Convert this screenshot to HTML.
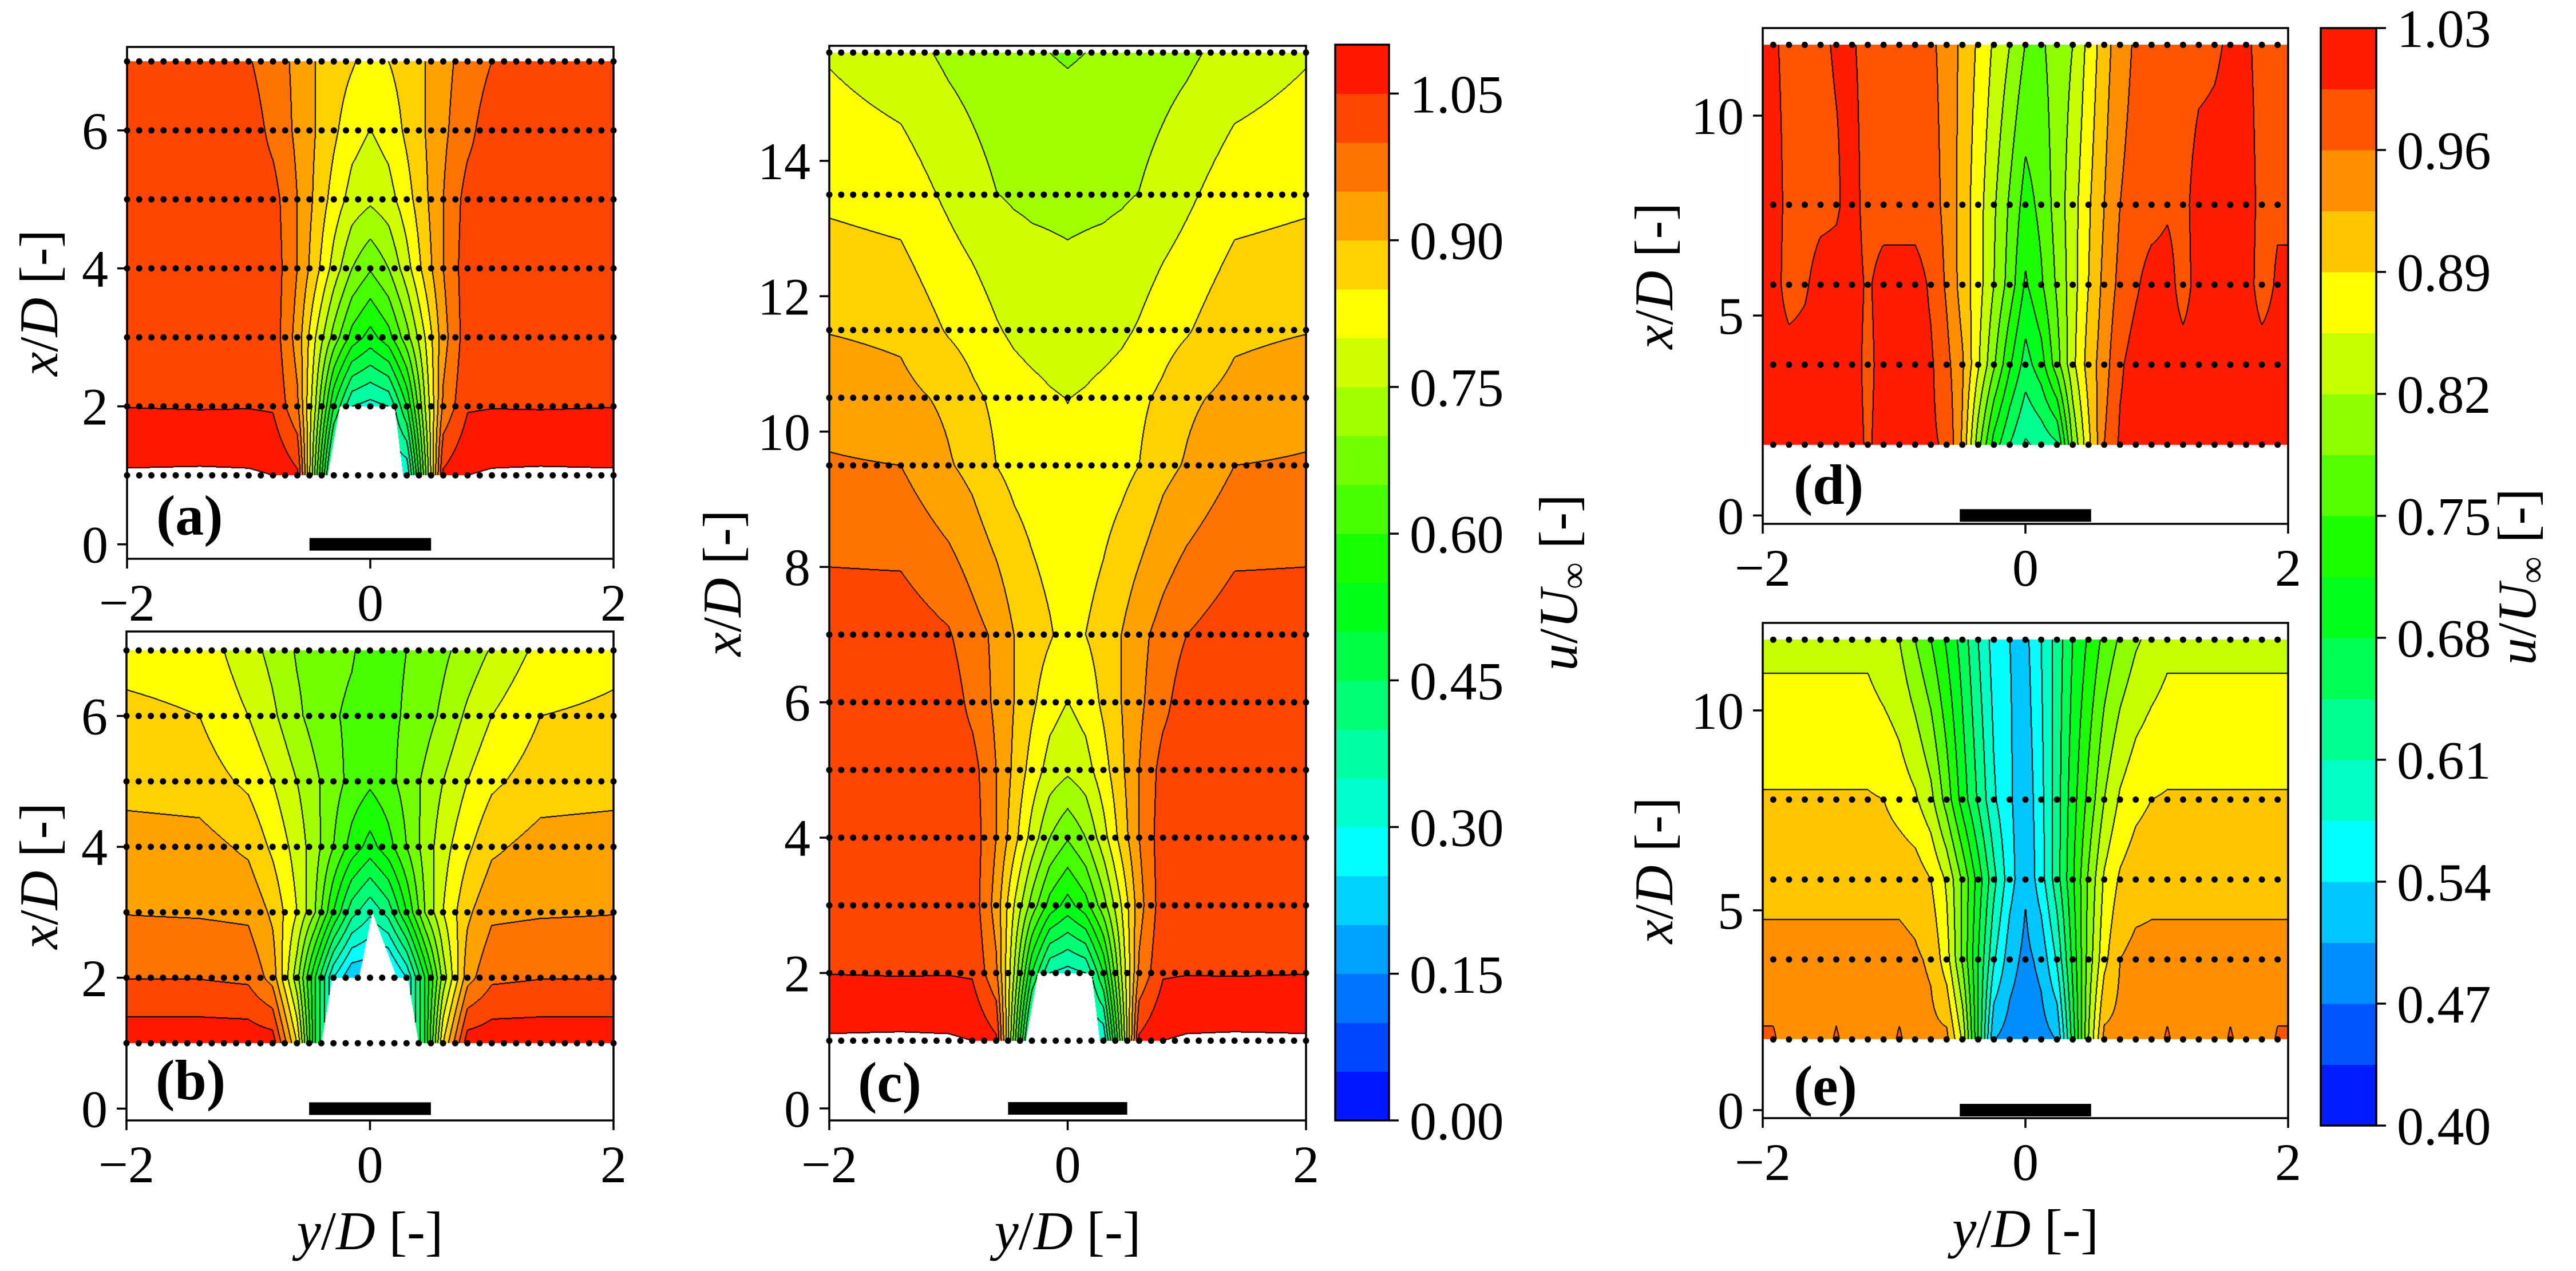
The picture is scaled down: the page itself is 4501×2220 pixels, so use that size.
<!DOCTYPE html>
<html><head><meta charset="utf-8"><title>Wake velocity contours</title>
<style>
html,body{margin:0;padding:0;background:#fff;}
body{width:4501px;height:2220px;position:relative;overflow:hidden;}
canvas{position:absolute;}
#overlay{position:absolute;left:0;top:0;}
text{font-family:"Liberation Serif","DejaVu Serif",serif;fill:#000;}
</style></head>
<body>
<svg id="overlay" width="4501" height="2220"></svg>
<script>
// ---------- DATA ----------
const abcY = [-2,-1.4,-1,-0.8,-0.6,-0.45,-0.3,-0.15,0,0.15,0.3,0.45,0.6,0.8,1,1.4,2];
const aRows = [1,2,3,4,5,6,7];
const aVals = [
 [1.106,1.108,1.106,1.10,1.06,0.68,0.30,0.30,0.30,0.30,0.30,0.68,1.06,1.10,1.106,1.108,1.106],
 [1.049,1.047,1.048,1.045,0.96,0.75,0.50,0.35,0.33,0.35,0.50,0.75,0.96,1.045,1.048,1.047,1.049],
 [1.03,1.03,1.03,1.03,0.93,0.80,0.68,0.58,0.53,0.58,0.68,0.80,0.93,1.03,1.03,1.03,1.03],
 [1.03,1.03,1.03,1.03,0.95,0.87,0.78,0.70,0.655,0.70,0.78,0.87,0.95,1.03,1.03,1.03,1.03],
 [1.03,1.03,1.03,1.02,0.95,0.89,0.83,0.78,0.76,0.78,0.83,0.89,0.95,1.02,1.03,1.03,1.03],
 [1.03,1.03,1.03,0.985,0.94,0.90,0.86,0.82,0.799,0.82,0.86,0.90,0.94,0.985,1.03,1.03,1.03],
 [1.03,1.03,1.005,0.97,0.94,0.90,0.875,0.855,0.83,0.85,0.87,0.90,0.935,0.97,1.0,1.03,1.03]
];
const bRows = [1,2,3,4,5,6,7];
const bVals = [
 [1.085,1.085,1.085,1.08,0.85,0.50,0.30,0.2,0.2,0.2,0.30,0.50,0.85,1.08,1.085,1.085,1.085],
 [0.998,0.998,0.99,0.93,0.72,0.50,0.30,0.2,0.2,0.2,0.30,0.50,0.72,0.93,0.99,0.998,0.998],
 [0.948,0.945,0.94,0.89,0.80,0.70,0.55,0.42,0.36,0.42,0.55,0.70,0.80,0.89,0.94,0.945,0.948],
 [0.925,0.92,0.89,0.84,0.78,0.72,0.65,0.58,0.53,0.58,0.65,0.72,0.78,0.84,0.89,0.92,0.925],
 [0.88,0.875,0.84,0.80,0.75,0.71,0.67,0.635,0.61,0.635,0.67,0.71,0.75,0.80,0.84,0.875,0.88],
 [0.86,0.85,0.80,0.76,0.71,0.68,0.655,0.64,0.62,0.64,0.655,0.68,0.71,0.76,0.80,0.85,0.86],
 [0.835,0.83,0.77,0.735,0.695,0.68,0.665,0.655,0.63,0.64,0.65,0.67,0.69,0.72,0.755,0.815,0.835]
];
const cRows = [1,2,3,4,5,6,7,9.5,10.5,11.5,13.5,15.6];
const cVals = [
 [1.106,1.108,1.106,1.10,1.06,0.68,0.30,0.30,0.30,0.30,0.30,0.68,1.06,1.10,1.106,1.108,1.106],
 [1.049,1.047,1.048,1.045,0.96,0.75,0.50,0.35,0.33,0.35,0.50,0.75,0.96,1.045,1.048,1.047,1.049],
 [1.03,1.03,1.03,1.03,0.93,0.80,0.68,0.58,0.53,0.58,0.68,0.80,0.93,1.03,1.03,1.03,1.03],
 [1.03,1.03,1.03,1.03,0.95,0.87,0.78,0.70,0.655,0.70,0.78,0.87,0.95,1.03,1.03,1.03,1.03],
 [1.03,1.03,1.03,1.02,0.95,0.89,0.83,0.78,0.76,0.78,0.83,0.89,0.95,1.02,1.03,1.03,1.03],
 [1.03,1.03,1.03,0.985,0.94,0.90,0.86,0.82,0.799,0.82,0.86,0.90,0.94,0.985,1.03,1.03,1.03],
 [1.03,1.03,1.005,0.97,0.94,0.90,0.875,0.855,0.83,0.85,0.87,0.90,0.935,0.97,1.0,1.03,1.03],
 [0.955,0.95,0.905,0.885,0.85,0.835,0.825,0.815,0.81,0.815,0.825,0.835,0.85,0.885,0.905,0.95,0.955],
 [0.93,0.915,0.89,0.86,0.84,0.825,0.815,0.805,0.799,0.805,0.815,0.825,0.84,0.86,0.89,0.915,0.93],
 [0.898,0.89,0.845,0.83,0.805,0.79,0.78,0.775,0.77,0.775,0.78,0.79,0.805,0.83,0.845,0.89,0.898],
 [0.84,0.83,0.79,0.77,0.751,0.745,0.742,0.741,0.74,0.741,0.742,0.745,0.751,0.77,0.79,0.83,0.84],
 [0.795,0.77,0.74,0.73,0.72,0.712,0.705,0.70,0.695,0.70,0.705,0.712,0.72,0.73,0.74,0.77,0.795]
];
const deY = [-1.92,-1.8,-1.68,-1.56,-1.44,-1.32,-1.2,-1.08,-0.96,-0.84,-0.72,-0.6,-0.48,-0.36,-0.24,-0.12,0,0.12,0.24,0.36,0.48,0.6,0.72,0.84,0.96,1.08,1.2,1.32,1.44,1.56,1.68,1.8,1.92];
const dRows = [1.77,3.77,5.77,7.77,11.77];
const dVals = [
 [1.01,1.01,1.01,1.01,1.01,1.01,0.99,1.01,1.01,1.01,1.0,0.99,0.92,0.80,0.70,0.645,0.605,0.62,0.64,0.79,0.88,0.96,1.0,1.01,1.01,1.01,1.01,1.01,1.01,1.01,1.01,1.01,1.01],
 [1.01,1.01,1.01,1.01,1.01,1.01,0.985,1.01,1.01,1.01,1.0,0.97,0.93,0.86,0.79,0.72,0.665,0.70,0.77,0.845,0.905,0.945,0.99,1.01,1.01,1.01,1.01,1.01,1.01,1.01,1.01,1.01,1.01],
 [1.01,0.98,0.99,1.01,1.01,1.01,0.99,1.01,1.01,1.01,0.99,0.955,0.91,0.87,0.82,0.77,0.71,0.745,0.79,0.84,0.89,0.935,0.97,0.99,1.01,1.01,0.98,1.01,1.01,1.01,1.01,0.98,1.0],
 [1.01,0.985,0.98,0.985,0.99,1.01,0.98,0.98,0.98,0.98,0.975,0.95,0.91,0.87,0.825,0.78,0.735,0.76,0.80,0.84,0.885,0.925,0.96,0.975,0.98,0.99,0.985,1.01,1.01,1.01,1.01,0.985,0.99],
 [1.0,0.985,0.985,0.99,0.998,0.998,0.985,0.98,0.975,0.97,0.965,0.95,0.915,0.885,0.85,0.82,0.784,0.78,0.80,0.82,0.865,0.91,0.945,0.965,0.975,0.98,0.98,0.985,0.99,1.0,1.0,0.985,0.98]
];
const eRows = [1.77,3.77,5.77,7.77,11.77];
const eVals = [
 [0.965,0.94,0.935,0.94,0.965,0.94,0.935,0.94,0.965,0.94,0.935,0.935,0.85,0.68,0.506,0.49,0.48,0.49,0.506,0.66,0.82,0.935,0.935,0.935,0.94,0.965,0.94,0.935,0.935,0.965,0.94,0.935,0.965],
 [0.935,0.935,0.935,0.935,0.935,0.935,0.935,0.935,0.935,0.93,0.92,0.87,0.78,0.68,0.58,0.52,0.495,0.515,0.58,0.69,0.80,0.88,0.925,0.935,0.935,0.935,0.935,0.935,0.935,0.935,0.935,0.935,0.935],
 [0.915,0.915,0.915,0.915,0.915,0.915,0.915,0.915,0.915,0.91,0.89,0.85,0.78,0.70,0.62,0.555,0.51,0.56,0.63,0.71,0.79,0.86,0.895,0.91,0.915,0.915,0.915,0.915,0.915,0.915,0.915,0.915,0.915],
 [0.893,0.893,0.893,0.893,0.893,0.893,0.893,0.89,0.875,0.86,0.83,0.77,0.70,0.64,0.58,0.545,0.515,0.565,0.63,0.70,0.76,0.82,0.86,0.88,0.89,0.893,0.893,0.893,0.893,0.893,0.893,0.893,0.893],
 [0.845,0.845,0.845,0.845,0.845,0.845,0.845,0.83,0.82,0.785,0.75,0.71,0.665,0.61,0.56,0.54,0.53,0.575,0.625,0.68,0.72,0.76,0.79,0.815,0.83,0.845,0.845,0.845,0.845,0.845,0.845,0.845,0.845]
];
// masked (no-data) regions, vertices as [y/D, x/D]
const acMask = [[-0.35,1],[-0.25,2],[0.2,2],[0.27,1]];
const bMask = [[-0.4,1],[-0.31,2],[-0.09,2],[0.02,3],[0.22,2],[0.31,2],[0.40,1]];
// colour scales
const cbarCLevels = [0,1.10,0.05];
const cbarCTicks = ["0.00","0.15","0.30","0.45","0.60","0.75","0.90","1.05"];
const cbarDELevels = [0.40,1.03,0.035];
const cbarDETicks = ["0.40","0.47","0.54","0.61","0.68","0.75","0.82","0.89","0.96","1.03"];
const xTickLabels = ["−2","0","2"];
const xTickVals = [-2,0,2];

// ---------- RENDER ----------
const NS='http://www.w3.org/2000/svg';
const svg=document.getElementById('overlay');
function el(tag,parent){const e=document.createElementNS(NS,tag);(parent||svg).appendChild(e);return e;}
function hueRGB(h){const x=1-Math.abs((h/60)%2-1);let r,g,b;
 if(h<60){r=1;g=x;b=0;}else if(h<120){r=x;g=1;b=0;}else if(h<180){r=0;g=1;b=x;}else{r=0;g=x;b=1;}
 return [Math.round(r*255),Math.round(g*255),Math.round(b*255)];}
function bandColor(k,n){return hueRGB(240*(1-(k+0.5)/n));}
function seg(arr,v){let i=0;while(i<arr.length-2&&v>arr[i+1])i++;let t=(v-arr[i])/(arr[i+1]-arr[i]);t=Math.max(0,Math.min(1,t));return [i,t];}
function inPoly(poly,y,x){let ins=false;for(let i=0,j=poly.length-1;i<poly.length;j=i++){const yi=poly[i][0],xi=poly[i][1],yj=poly[j][0],xj=poly[j][1];
 if(((xi>x)!==(xj>x))&&(y<(yj-yi)*(x-xi)/(xj-xi)+yi))ins=!ins;}return ins;}

const panels=[
 {id:'a',L:222,R:1072,T:82,B:976,ylim:[-0.21,7.21],rows:aRows,grid:abcY,vals:aVals,mask:acMask,lev:cbarCLevels,yt:[0,2,4,6],lab:'(a)',labX:273,labY:906,ylx:68,xl:false,dotStep:0.1,dotN:41,dot0:-2},
 {id:'b',L:221,R:1072,T:1103,B:1957,ylim:[-0.18,7.29],rows:bRows,grid:abcY,vals:bVals,mask:bMask,lev:cbarCLevels,yt:[0,2,4,6],lab:'(b)',labX:272,labY:1892,ylx:68,xl:true,dotStep:0.1,dotN:41,dot0:-2},
 {id:'c',L:1449,R:2282,T:80,B:1957,ylim:[-0.178,15.70],rows:cRows,grid:abcY,vals:cVals,mask:acMask,lev:cbarCLevels,yt:[0,2,4,6,8,10,12,14],lab:'(c)',labX:1499,labY:1896,ylx:1262,xl:true,dotStep:0.1,dotN:41,dot0:-2},
 {id:'d',L:3080,R:3998,T:49,B:915,ylim:[-0.21,12.19],rows:dRows,grid:deY,vals:dVals,mask:null,lev:cbarDELevels,yt:[0,5,10],lab:'(d)',labX:3134,labY:852,ylx:2890,xl:false,dotStep:0.12,dotN:33,dot0:-1.92},
 {id:'e',L:3080,R:3998,T:1088,B:1953,ylim:[-0.2,12.19],rows:eRows,grid:deY,vals:eVals,mask:null,lev:cbarDELevels,yt:[0,5,10],lab:'(e)',labX:3134,labY:1902,ylx:2890,xl:true,dotStep:0.12,dotN:33,dot0:-1.92}
];

function renderField(p){
 const W=p.R-p.L,H=p.B-p.T;
 const cv=document.createElement('canvas');cv.width=W;cv.height=H;
 cv.style.left=p.L+'px';cv.style.top=p.T+'px';
 
 
 document.body.insertBefore(cv,svg);
 const ctx=cv.getContext('2d');const img=ctx.createImageData(W,H);const d=img.data;
 const vmin=p.lev[0],vmax=p.lev[1],step=p.lev[2];const n=Math.round((vmax-vmin)/step);
 const idx=new Int16Array(W*H).fill(-1);
 const rows=p.rows,grid=p.grid,vals=p.vals;
 for(let j=0;j<H;j++){
  const xv=p.ylim[1]-(j+0.5)/H*(p.ylim[1]-p.ylim[0]);
  if(xv<rows[0]||xv>rows[rows.length-1])continue;
  const [r,tr]=seg(rows,xv);
  for(let i=0;i<W;i++){
   const yv=-2+(i+0.5)/W*4;
   if(p.mask&&xv<3.05&&inPoly(p.mask,yv,xv))continue;
   const [c,tc]=seg(grid,yv);
   const v=(1-tr)*((1-tc)*vals[r][c]+tc*vals[r][c+1])+tr*((1-tc)*vals[r+1][c]+tc*vals[r+1][c+1]);
   let k;
   if(v>vmax)k=-2;else if(v<vmin)k=-1;else k=Math.min(n-1,Math.floor((v-vmin)/step));
   idx[j*W+i]=k;
  }
 }
 const line=new Uint8Array(W*H);
 for(let j=0;j<H;j++)for(let i=0;i<W;i++){
  const q=j*W+i,a=idx[q];if(a===-1)continue;
  if(i+1<W){const b=idx[q+1];if(b!==-1&&b!==a){line[q]=1;line[q+1]=1;}}
  if(j+1<H){const b=idx[q+W];if(b!==-1&&b!==a){line[q]=1;line[q+W]=1;}}
 }
 const cache={};
 for(let q=0;q<W*H;q++){
  const k=idx[q];const o=q*4;
  if(line[q]){d[o]=0;d[o+1]=0;d[o+2]=0;d[o+3]=255;continue;}
  if(k<0)continue;
  const col=cache[k]||(cache[k]=bandColor(k,n));
  d[o]=col[0];d[o+1]=col[1];d[o+2]=col[2];d[o+3]=255;
 }
 ctx.putImageData(img,0,0);
}

function drawAxes(p){
 const g=el('g');
 
 
 const sx=v=>p.L+(v+2)/4*(p.R-p.L);
 const sy=v=>p.B-(v-p.ylim[0])/(p.ylim[1]-p.ylim[0])*(p.B-p.T);
 // dotted measurement rows
 const dg=el('g',g);
 
 
 for(const rv of p.rows){for(let k=0;k<p.dotN;k++){
  const c=el('circle',dg);c.setAttribute('cx',sx(p.dot0+k*p.dotStep));c.setAttribute('cy',sy(rv));c.setAttribute('r',5.5);c.setAttribute('fill','#000');
  
  
 }}
 // cylinder bar
 const bar=el('rect',g);bar.setAttribute('x',sx(-0.5));bar.setAttribute('y',sy(0)-11);bar.setAttribute('width',sx(0.5)-sx(-0.5));bar.setAttribute('height',22);bar.setAttribute('fill','#000');
 
 
 // frame
 const fr=el('rect',g);fr.setAttribute('x',p.L);fr.setAttribute('y',p.T);fr.setAttribute('width',p.R-p.L);fr.setAttribute('height',p.B-p.T);fr.setAttribute('fill','none');fr.setAttribute('stroke','#000');fr.setAttribute('stroke-width',3.5);
 
 
 // x ticks
 xTickVals.forEach((v,i)=>{
  const t=el('line',g);t.setAttribute('x1',sx(v));t.setAttribute('x2',sx(v));t.setAttribute('y1',p.B);t.setAttribute('y2',p.B+17);t.setAttribute('stroke','#000');t.setAttribute('stroke-width',3.5);
  
  
  const tx=el('text',g);tx.setAttribute('x',sx(v));tx.setAttribute('y',p.B+108);tx.setAttribute('font-size',92);tx.setAttribute('text-anchor','middle');tx.textContent=xTickLabels[i];
  
  
 });
 p.yt.forEach(v=>{
  const t=el('line',g);t.setAttribute('x1',p.L-17);t.setAttribute('x2',p.L);t.setAttribute('y1',sy(v));t.setAttribute('y2',sy(v));t.setAttribute('stroke','#000');t.setAttribute('stroke-width',3.5);
  
  
  const tx=el('text',g);tx.setAttribute('x',p.L-33);tx.setAttribute('y',sy(v)+32);tx.setAttribute('font-size',92);tx.setAttribute('text-anchor','end');tx.textContent=String(v);
  
  
 });
 // panel label
 const lb=el('text',g);lb.setAttribute('x',p.labX);lb.setAttribute('y',p.labY+28);lb.setAttribute('font-size',100);lb.setAttribute('font-weight','bold');lb.textContent=p.lab;
 
 
 // y axis title
 const yl=el('text',g);yl.setAttribute('transform','translate('+(p.ylx+32)+','+((p.T+p.B)/2)+') rotate(-90)');yl.setAttribute('font-size',95);yl.setAttribute('text-anchor','middle');
 yl.innerHTML='<tspan font-style="italic">x</tspan>/<tspan font-style="italic">D</tspan> [-]';
 
 
 if(p.xl){
  const xl=el('text',g);xl.setAttribute('x',(p.L+p.R)/2);xl.setAttribute('y',p.B+225);xl.setAttribute('font-size',95);xl.setAttribute('text-anchor','middle');
  xl.innerHTML='<tspan font-style="italic">y</tspan>/<tspan font-style="italic">D</tspan> [-]';
  
  
 }
}

function drawColorbar(id,L,R,T,B,lev,ticks,titleX){
 const g=el('g');
 
 
 const vmin=lev[0],vmax=lev[1],step=lev[2];const n=Math.round((vmax-vmin)/step);
 const sy=v=>B-(v-vmin)/(vmax-vmin)*(B-T);
 for(let k=0;k<n;k++){
  const c=bandColor(k,n);const r=el('rect',g);
  r.setAttribute('x',L);r.setAttribute('y',sy(vmin+(k+1)*step));r.setAttribute('width',R-L);r.setAttribute('height',sy(vmin+k*step)-sy(vmin+(k+1)*step)+0.5);
  r.setAttribute('fill','rgb('+c.join(',')+')');
  
  
 }
 const fr=el('rect',g);fr.setAttribute('x',L);fr.setAttribute('y',T);fr.setAttribute('width',R-L);fr.setAttribute('height',B-T);fr.setAttribute('fill','none');fr.setAttribute('stroke','#000');fr.setAttribute('stroke-width',3.5);
 
 
 ticks.forEach(s=>{const v=parseFloat(s);
  const t=el('line',g);t.setAttribute('x1',R);t.setAttribute('x2',R+17);t.setAttribute('y1',sy(v));t.setAttribute('y2',sy(v));t.setAttribute('stroke','#000');t.setAttribute('stroke-width',3.5);
  
  
  const tx=el('text',g);tx.setAttribute('x',R+36);tx.setAttribute('y',sy(v)+33);tx.setAttribute('font-size',94);tx.textContent=s;
  
  
 });
 const tt=el('text',g);tt.setAttribute('transform','translate('+titleX+','+((T+B)/2)+') rotate(-90)');tt.setAttribute('font-size',95);tt.setAttribute('text-anchor','middle');
 tt.innerHTML='<tspan font-style="italic">u</tspan>/<tspan font-style="italic">U</tspan><tspan font-size="66" dy="16">∞</tspan><tspan dy="-16"> [-]</tspan>';
 
 
}

panels.forEach(p=>{renderField(p);drawAxes(p);});
drawColorbar('c',2333,2427,78,1957,cbarCLevels,cbarCTicks,2755);
drawColorbar('de',4055,4152,49,1966,cbarDELevels,cbarDETicks,4430);
</script>
</body></html>
